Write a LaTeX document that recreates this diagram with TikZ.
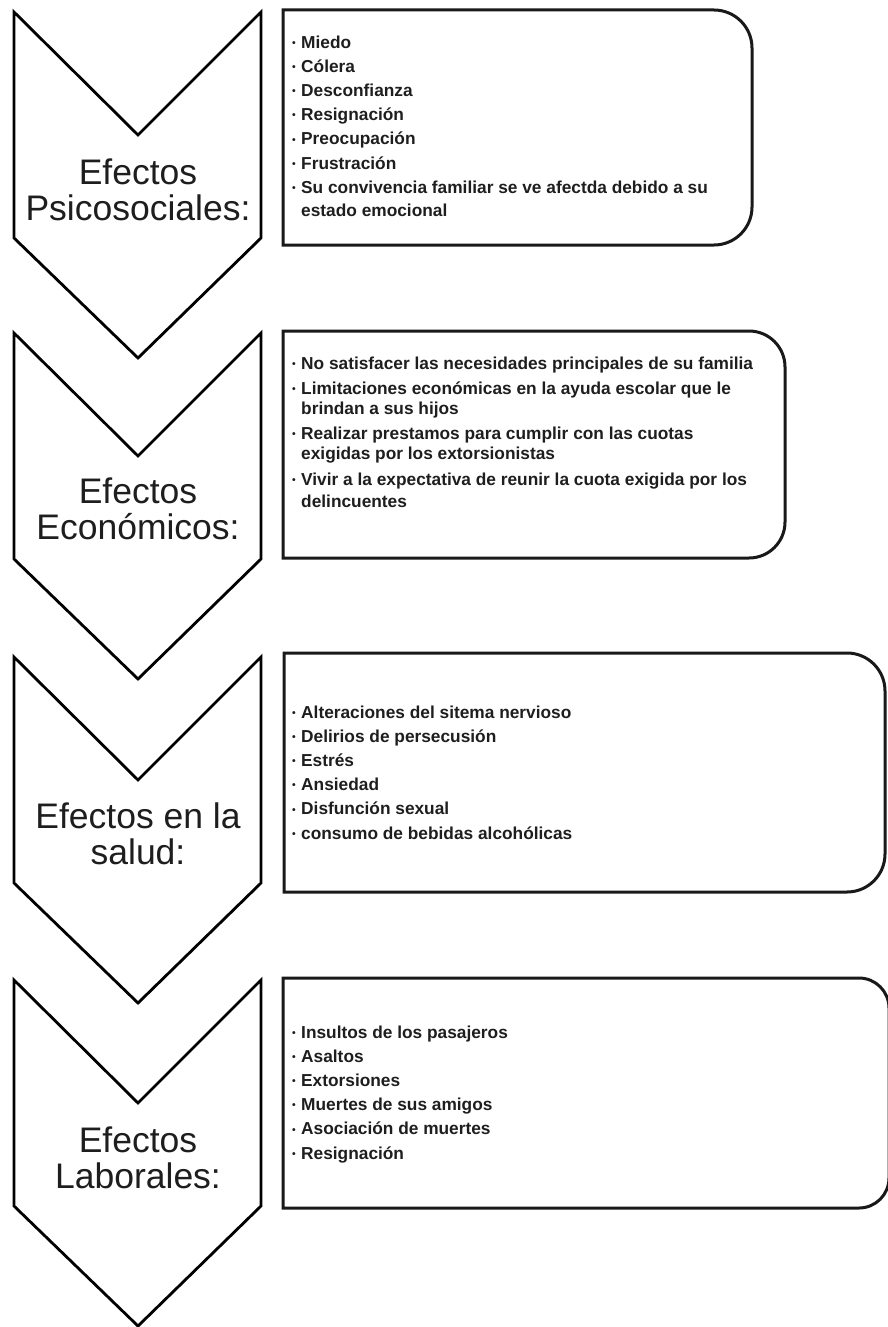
\documentclass[tikz,border=0pt]{standalone}
\usepackage{fontspec}
\setmainfont{Liberation Sans}
\definecolor{ink}{HTML}{1E1E1E}
\newcommand{\bul}{\makebox[9pt][l]{\raisebox{0.2ex}{\scalebox{0.6}{\textbullet}}}}
\newcommand{\hang}{\hphantom{\bul}}
\newcommand{\chev}[2]{% name, top y
  \draw[chevline] (14,-#2) coordinate (#1tl) -- (138,{-#2-123}) coordinate (#1n)
    -- (261,-#2) coordinate (#1tr) -- (261,{-#2-226}) coordinate (#1br)
    -- (138,{-#2-346}) coordinate (#1tip) -- (14,{-#2-226}) coordinate (#1bl) -- cycle;}
\newcommand{\rbox}[5]{% x1 y1 x2 y2 r
  \draw[boxline] (#1,-#2) -- ({#3-#5},-#2) arc[start angle=90,end angle=0,radius=#5pt]
    -- (#3,{-#4+#5}) arc[start angle=0,end angle=-90,radius=#5pt] -- (#1,-#4) -- cycle;}
\begin{document}
\begin{tikzpicture}[x=1pt,y=1pt,
  chevline/.style={draw=black,line width=2.8pt,line join=miter,fill=white},
  boxline/.style={draw=black!90,line width=3pt,fill=white},
  label/.style={text=ink,align=center,inner sep=0pt,
    font=\fontsize{35.5}{36}\selectfont},
  listtext/.style={text=ink,align=left,inner sep=0pt,anchor=north west,
    font=\fontsize{17.3}{24.2}\selectfont\bfseries}]
\fill[white] (0,0) rectangle (887,-1327);
\useasboundingbox (0,0) rectangle (887,-1327);

% chevrons
\chev{c1}{12}
\chev{c2}{333}
\chev{c3}{657}
\chev{c4}{980}

\node[label] (l1) at (138,-190) {Efectos\\Psicosociales:};
\node[label] (l2) at (138,-509) {Efectos\\Económicos:};
\node[label] (l3) at (138,-834) {Efectos en la\\salud:};
\node[label] (l4) at (138,-1158) {Efectos\\Laborales:};

% boxes
\rbox{283}{10}{752}{245}{38}
\rbox{283}{331}{785}{558}{36}
\rbox{284}{653}{885}{892}{38}
\rbox{283}{978}{889}{1208}{30}

\node[listtext] (t1) at (292,-31) {\strut\bul Miedo\\
\bul Cólera\\
\bul Desconfianza\\
\bul Resignación\\
\bul Preocupación\\
\bul Frustración\\
\bul Su convivencia familiar se ve afectda debido a su\\[-1pt]
\hang estado emocional};

\node[listtext] (t2) at (292,-352) {\strut\bul No satisfacer las necesidades principales de su familia\\[1pt]
\bul Limitaciones económicas en la ayuda escolar que le\\[-4pt]
\hang brindan a sus hijos\\[1pt]
\bul Realizar prestamos para cumplir con las cuotas\\[-4pt]
\hang exigidas por los extorsionistas\\[1pt]
\bul Vivir a la expectativa de reunir la cuota exigida por los\\[-2pt]
\hang delincuentes};

\node[listtext] (t3) at (292,-701) {\strut\bul Alteraciones del sitema nervioso\\
\bul Delirios de persecusión\\
\bul Estrés\\
\bul Ansiedad\\
\bul Disfunción sexual\\
\bul consumo de bebidas alcohólicas};

\node[listtext] (t4) at (292,-1021) {\strut\bul Insultos de los pasajeros\\
\bul Asaltos\\
\bul Extorsiones\\
\bul Muertes de sus amigos\\
\bul Asociación de muertes\\
\bul Resignación};
\end{tikzpicture}
\end{document}
